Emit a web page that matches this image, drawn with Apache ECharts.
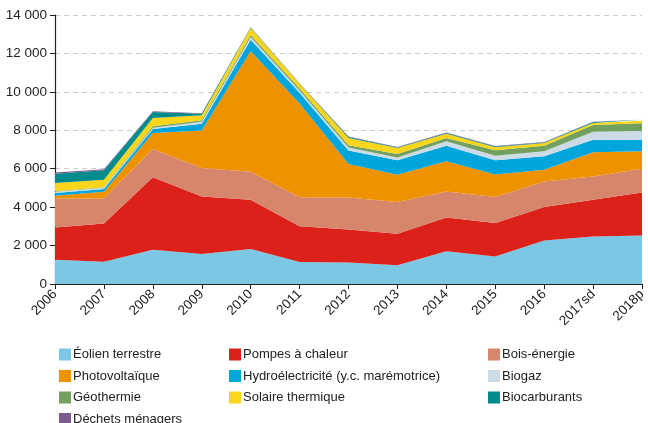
<!DOCTYPE html>
<html>
<head>
<meta charset="utf-8">
<script src="https://cdn.jsdelivr.net/npm/echarts@6/dist/echarts.min.js"></script>
<style>
  html, body { margin: 0; padding: 0; background: #fff; }
  #chart { width: 648px; height: 423px; }
</style>
</head>
<body>
<div id="chart"></div>
<script>
// années
var years = ['2006', '2007', '2008', '2009', '2010', '2011', '2012', '2013', '2014', '2015', '2016', '2017sd', '2018p']

// valeurs (empilées, de bas en haut)
var eolien = [1265, 1160, 1786, 1560, 1820, 1145, 1120, 970, 1700, 1437, 2270, 2478, 2520]
var pompes = [1680, 1995, 3764, 3000, 2570, 1855, 1710, 1650, 1767, 1738, 1738, 1910, 2248]
var bois = [1510, 1300, 1478, 1480, 1455, 1510, 1670, 1650, 1353, 1354, 1333, 1213, 1234]
var pv = [140, 350, 832, 1955, 6265, 4890, 1750, 1420, 1562, 1176, 609, 1250, 901]
var hydro = [140, 140, 210, 350, 607, 550, 700, 745, 818, 730, 693, 661, 609]
var biogaz = [70, 70, 67, 105, 143, 120, 150, 155, 223, 243, 260, 416, 450]
var geo = [20, 20, 67, 67, 100, 100, 125, 177, 177, 277, 297, 349, 400]
var solaire = [430, 395, 436, 260, 366, 250, 375, 313, 224, 156, 140, 104, 130]
var biocarb = [485, 485, 310, 88, 20, 20, 50, 30, 40, 45, 30, 48, 60]
var dechets = [60, 60, 40, 25, 10, 10, 25, 15, 20, 20, 15, 15, 15]

var yTicks = [0, 2000, 4000, 6000, 8000, 10000, 12000, 14000]

var myChart = echarts.init(document.getElementById('chart'))
var font = 'Liberation Sans, Arial, sans-serif'

function serie(name, data, color) {
  return {
    name: name,
    type: 'line',
    stack: 'total',
    data: data,
    showSymbol: false,
    symbol: 'none',
    lineStyle: { width: 0 },
    areaStyle: { color: color, opacity: 1 },
    itemStyle: { color: color },
    emphasis: { disabled: true }
  }
}

function legend(left, names) {
  return {
    orient: 'vertical',
    left: left,
    top: 343,
    height: 90,
    itemWidth: 12,
    itemHeight: 12,
    itemGap: 8.5,
    icon: 'rect',
    selectedMode: false,
    data: names,
    textStyle: { fontFamily: font, fontSize: 13, color: '#222', padding: [0, 0, 0, -3] }
  }
}

var option = {
  animation: false,
  legend: [
    legend(54, ['Éolien terrestre', 'Photovoltaïque', 'Géothermie', 'Déchets ménagers']),
    legend(224, ['Pompes à chaleur', 'Hydroélectricité (y.c. marémotrice)', 'Solaire thermique']),
    legend(483, ['Bois-énergie', 'Biogaz', 'Biocarburants'])
  ],
  grid: {
    left: 55,
    right: 6,
    top: 15,
    bottom: 139,
    outerBoundsMode: 'none'
  },
  xAxis: {
    type: 'category',
    data: years,
    boundaryGap: false,
    axisLine: { lineStyle: { color: '#222', width: 1.2 } },
    axisTick: { show: true, length: 5, alignWithLabel: true, lineStyle: { color: '#222' } },
    axisLabel: {
      rotate: 45,
      interval: 0,
      margin: 8,
      fontFamily: font,
      fontSize: 13.5,
      color: '#222'
    }
  },
  yAxis: {
    type: 'value',
    min: yTicks[0],
    max: yTicks[yTicks.length - 1],
    interval: 2000,
    axisLine: { show: true, lineStyle: { color: '#222', width: 1.2 } },
    axisTick: { show: true, length: 5, lineStyle: { color: '#222' } },
    splitLine: { lineStyle: { color: '#cccccc', type: [5, 4] } },
    axisLabel: {
      margin: 8,
      fontFamily: font,
      fontSize: 13.5,
      color: '#222',
      formatter: function (v) { return String(v).replace(/\B(?=(\d{3})+(?!\d))/g, ' ') }
    }
  },
  series: [
    serie('Éolien terrestre', eolien, '#7cc7e4'),
    serie('Pompes à chaleur', pompes, '#dc211a'),
    serie('Bois-énergie', bois, '#d6866b'),
    serie('Photovoltaïque', pv, '#ef9200'),
    serie('Hydroélectricité (y.c. marémotrice)', hydro, '#00a6db'),
    serie('Biogaz', biogaz, '#cddbe6'),
    serie('Géothermie', geo, '#72a05e'),
    serie('Solaire thermique', solaire, '#f9d51c'),
    serie('Biocarburants', biocarb, '#008c8c'),
    serie('Déchets ménagers', dechets, '#7b5a8c')
  ]
}
myChart.setOption(option)
</script>
</body>
</html>
